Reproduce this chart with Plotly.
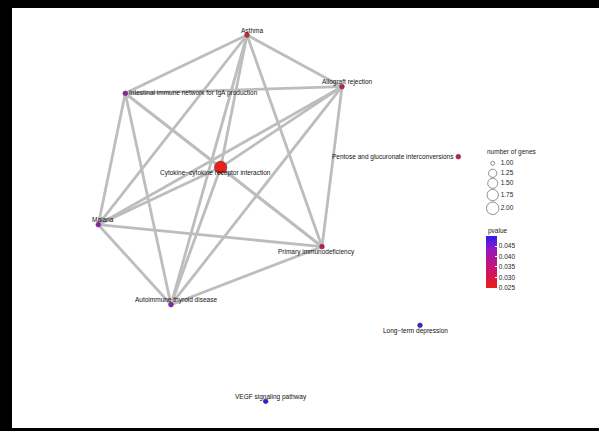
import plotly.graph_objects as go

# ---- data ----
names = [
    "Asthma",
    "Intestinal immune network for IgA production",
    "Cytokine−cytokine receptor interaction",
    "Allograft rejection",
    "Pentose and glucuronate interconversions",
    "Malaria",
    "Primary immunodeficiency",
    "Autoimmune thyroid disease",
    "Long−term depression",
    "VEGF signaling pathway",
]
# network layout coordinates (layout units)
layout_x = [247.0, 125.3, 220.7, 342.0, 458.3, 98.3, 322.0, 171.0, 420.0, 265.7]
layout_y = [35.0, 93.3, 167.3, 86.7, 156.7, 224.7, 246.7, 304.7, 325.3, 401.3]
n_genes = [1, 1, 2, 1, 1, 1, 1, 1, 1, 1]
pvalue = [0.0260, 0.0430, 0.0249, 0.0322, 0.0322, 0.0435, 0.0335, 0.0433, 0.0490, 0.0499]

edges = [
    ("Asthma", "Intestinal immune network for IgA production"),
    ("Asthma", "Cytokine−cytokine receptor interaction"),
    ("Asthma", "Allograft rejection"),
    ("Asthma", "Malaria"),
    ("Asthma", "Primary immunodeficiency"),
    ("Asthma", "Autoimmune thyroid disease"),
    ("Intestinal immune network for IgA production", "Cytokine−cytokine receptor interaction"),
    ("Intestinal immune network for IgA production", "Allograft rejection"),
    ("Intestinal immune network for IgA production", "Malaria"),
    ("Intestinal immune network for IgA production", "Primary immunodeficiency"),
    ("Intestinal immune network for IgA production", "Autoimmune thyroid disease"),
    ("Cytokine−cytokine receptor interaction", "Allograft rejection"),
    ("Cytokine−cytokine receptor interaction", "Malaria"),
    ("Cytokine−cytokine receptor interaction", "Primary immunodeficiency"),
    ("Cytokine−cytokine receptor interaction", "Autoimmune thyroid disease"),
    ("Allograft rejection", "Malaria"),
    ("Allograft rejection", "Primary immunodeficiency"),
    ("Allograft rejection", "Autoimmune thyroid disease"),
    ("Malaria", "Primary immunodeficiency"),
    ("Malaria", "Autoimmune thyroid disease"),
    ("Primary immunodeficiency", "Autoimmune thyroid disease"),
]

size_legend_values = [1.00, 1.25, 1.50, 1.75, 2.00]
pvalue_ticks = [0.025, 0.030, 0.035, 0.040, 0.045]

# ---- styles ----
FONT = "Liberation Sans, Arial, Helvetica, sans-serif"
FS = 6.5
# label anchoring: (xanchor, xshift px, yshift px; positive = up)
label_style = [
    ("center", 5, 5),
    ("left", 1.5, 0),
    ("center", -5, -6),
    ("center", 5, 5),
    ("right", -2, 0),
    ("center", 5, 5),
    ("center", -5.5, -5.3),
    ("center", 5, 5),
    ("center", -5, -5.4),
    ("center", 5, 4.6),
]
colorscale = [
    [0.0, "#E8201A"],
    [0.25, "#D61552"],
    [0.5, "#BC128A"],
    [0.75, "#9218C2"],
    [1.0, "#2C1CF4"],
]

g_min, g_max = min(size_legend_values), max(size_legend_values)
D_MIN, D_MAX = 4.0, 12.5


def marker_size(v):
    t = (v - g_min) / (g_max - g_min)
    return D_MIN + (D_MAX - D_MIN) * t ** 0.5


idx = {n: i for i, n in enumerate(names)}
ex, ey = [], []
for a, b in edges:
    ex += [layout_x[idx[a]], layout_x[idx[b]], None]
    ey += [layout_y[idx[a]], layout_y[idx[b]], None]

fig = go.Figure()
fig.add_trace(go.Scatter(x=ex, y=ey, mode="lines",
                         line=dict(color="#BDBDBD", width=2.8),
                         hoverinfo="skip", showlegend=False))

node_sizes = [marker_size(v) + (0.8 if v == 1 else 0) for v in n_genes]
cb_x0 = (485.7 - 12) / 587
fig.add_trace(go.Scatter(
    x=layout_x, y=layout_y, mode="markers", text=names, showlegend=False,
    marker=dict(size=node_sizes, color=pvalue, colorscale=colorscale,
                opacity=1,
                line=dict(color="#3A3A3A", width=0.5),
                showscale=True,
                colorbar=dict(
                    x=cb_x0, xanchor="left", xpad=0,
                    y=(428 - 262) / 420, yanchor="middle", ypad=0,
                    len=52, lenmode="pixels", thickness=11,
                    outlinewidth=0, tickvals=pvalue_ticks,
                    ticktext=[f"{v:.3f}" for v in pvalue_ticks],
                    ticks="inside", ticklen=2, tickcolor="white",
                    tickfont=dict(family=FONT, size=FS, color="#222222"),
                    bgcolor="rgba(0,0,0,0)",
                ))))

for i, n in enumerate(names):
    xa, xs, ys = label_style[i]
    fig.add_annotation(x=layout_x[i], y=layout_y[i], text=n, showarrow=False,
                       xanchor=xa, yanchor="middle", xshift=xs, yshift=ys,
                       font=dict(family=FONT, size=FS, color="#111111"))

# size legend
leg_x = 492.7
leg_y = [163.3, 173.3, 183.3, 195.0, 208.3]
fig.add_trace(go.Scatter(
    x=[leg_x] * len(size_legend_values), y=leg_y, mode="markers",
    marker=dict(size=[marker_size(v) for v in size_legend_values],
                color="rgba(0,0,0,0)", line=dict(color="#222222", width=0.7)),
    hoverinfo="skip", showlegend=False))
fig.add_trace(go.Scatter(
    x=[leg_x + 8] * len(size_legend_values), y=leg_y, mode="text",
    text=[f"{v:.2f}" for v in size_legend_values], textposition="middle right",
    textfont=dict(family=FONT, size=FS, color="#222222"),
    hoverinfo="skip", showlegend=False))
fig.add_annotation(x=485, y=152, text="number of genes", showarrow=False,
                   xanchor="left", yanchor="middle",
                   font=dict(family=FONT, size=FS, color="#222222"))
fig.add_annotation(x=485.7, y=231, text="pvalue", showarrow=False,
                   xanchor="left", yanchor="middle",
                   font=dict(family=FONT, size=FS, color="#222222"))

fig.update_layout(
    width=599, height=431,
    margin=dict(l=12, r=0, t=8, b=3),
    paper_bgcolor="black", plot_bgcolor="white",
    xaxis=dict(range=[12, 599], visible=False, fixedrange=True),
    yaxis=dict(range=[428, 8], visible=False, fixedrange=True),
    showlegend=False,
)
fig.write_html("out.html", config={"displayModeBar": False},
               post_script="document.body.style.margin='0px';document.body.style.overflow='hidden';")
